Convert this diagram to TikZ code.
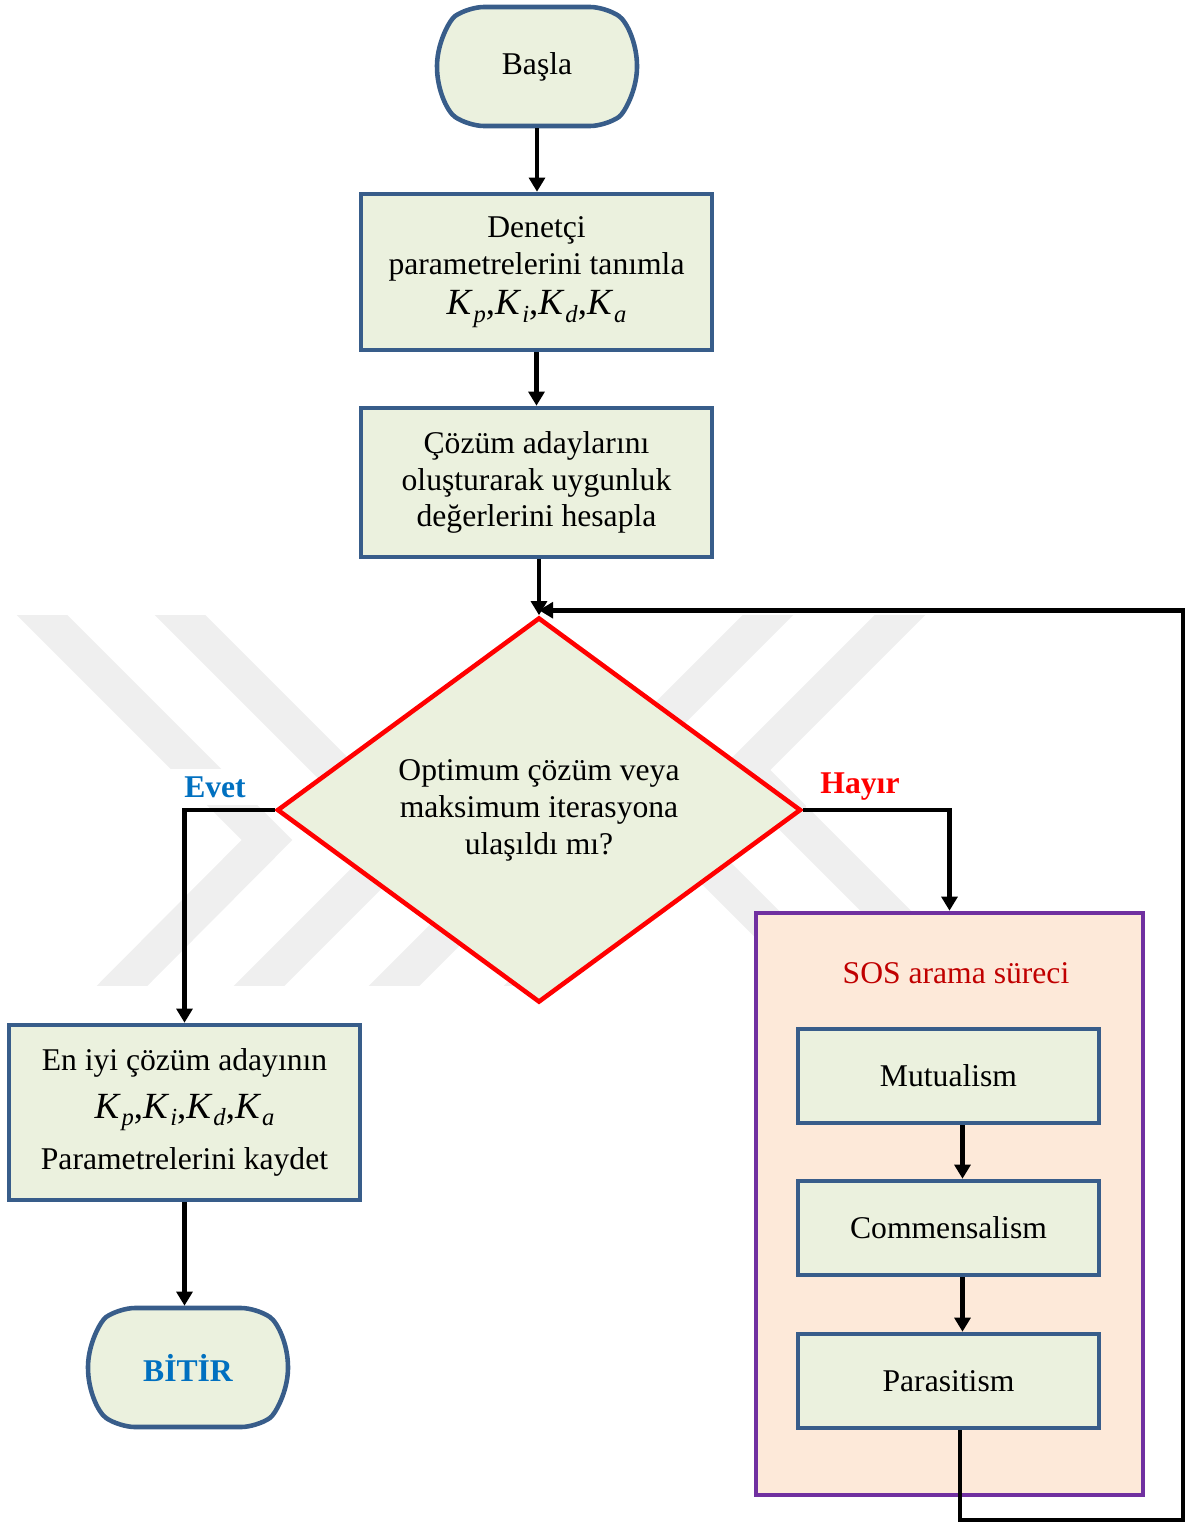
\documentclass[tikz,border=0pt]{standalone}
\usepackage{fontspec}
\setmainfont{Liberation Serif}
\usepackage{xcolor}
\definecolor{BoxFill}{HTML}{EBF1DE}
\definecolor{BoxLine}{HTML}{385D8A}
\definecolor{GrpFill}{HTML}{FDE9D9}
\definecolor{GrpLine}{HTML}{7030A0}
\definecolor{DecRed}{HTML}{FF0000}
\definecolor{TitleRed}{HTML}{C00000}
\definecolor{YesBlue}{HTML}{0070C0}
\definecolor{Mark}{HTML}{EFEFEF}
\usetikzlibrary{positioning,calc,arrows.meta,shapes.geometric,shapes.misc}
\tikzset{
  txt/.style={font=\fontsize{18}{21}\selectfont,align=center},
  bold/.style={font=\fontsize{18}{21}\selectfont\bfseries},
  bx/.style={txt,draw=BoxLine,fill=BoxFill,line width=2.6pt,inner sep=0pt},
  term/.style={bx,rounded rectangle,rounded rectangle arc length=110,rounded corners=9pt,
    minimum width=4cm,minimum height=2.38cm},
  dec/.style={txt,diamond,draw=DecRed,fill=BoxFill,line width=2.6pt,inner sep=0pt,
    aspect=1.36,minimum width=10.48cm,minimum height=7.7cm},
  grp/.style={draw=GrpLine,fill=GrpFill,line width=2.6pt,inner sep=0pt},
  flow/.style={-{Triangle[length=8pt,width=9pt]},line width=2.6pt},
  lbl/.style={bold,fill=white,inner xsep=8pt,inner ysep=4pt},
  wm/.style={draw=Mark,line width=0.72cm,line join=miter},
}
\newcommand{\kk}[1]{\textit{K}\kern0.5pt\raisebox{-0.45ex}{\fontsize{14}{14}\selectfont\textit{#1}}}
\newcommand{\kset}{{\fontsize{21}{21}\selectfont\kk{p},\kk{i},\kk{d},\kk{a}}}

\begin{document}
\begin{tikzpicture}
\useasboundingbox (0,0) rectangle (23.84,-30.48);

\begin{scope}
\clip (0,-12.3) rectangle (23.84,-19.7);
\draw[wm] (0.44,-11.9) -- (5.34,-16.8) -- (2.06,-20.1);
\draw[wm] (3.2,-11.9) -- (8.1,-16.8) -- (4.8,-20.1);
\draw[wm] (15.76,-11.9) -- (12.26,-15.4) -- (16.96,-20.1);
\draw[wm] (18.4,-11.9) -- (14.9,-15.4) -- (19.6,-20.1);
\draw[wm] (7.5,-20.1) -- (12,-15.6);
\draw[wm] (10.2,-20.1) -- (14,-16.3);
\end{scope}

\node[term] (basla) at (10.74,-1.33) {Başla};
\node[bx,minimum width=7.02cm,minimum height=3.12cm] (tanim) at (10.73,-5.44)
  {Denetçi\\parametrelerini tanımla\\[2pt]\kset};
\node[bx,minimum width=7.02cm,minimum height=2.98cm] (aday) at (10.73,-9.65)
  {Çözüm adaylarını\\oluşturarak uygunluk\\değerlerini hesapla};
\node[dec] (kontrol) at (10.78,-16.2)
  {Optimum çözüm veya\\maksimum iterasyona\\ulaşıldı mı?};
\node[bx,minimum width=7.02cm,minimum height=3.5cm] (kayit) at (3.69,-22.25)
  {En iyi çözüm adayının\\[6pt]\kset\\[8pt]Parametrelerini kaydet};
\node[term,bold,text=YesBlue] (bitir) at (3.76,-27.35) {BİTİR};

\node[grp,minimum width=7.74cm,minimum height=11.64cm] (sos) at (18.99,-24.08) {};
\node[txt,text=TitleRed] (sostit) at (19.12,-19.46) {SOS arama süreci};
\node[bx,minimum width=6.02cm,minimum height=1.88cm] (mut) at (18.97,-21.52) {Mutualism};
\node[bx,minimum width=6.02cm,minimum height=1.88cm] (com) at (18.97,-24.56) {Commensalism};
\node[bx,minimum width=6.02cm,minimum height=1.88cm] (par) at (18.97,-27.62) {Parasitism};

\node[lbl,text=YesBlue] (evet) at (4.3,-15.74) {Evet};
\node[lbl,text=DecRed] (hayir) at (17.2,-15.74) {Hayır};

\draw[flow] (basla.south) -- (basla.south |- tanim.north);
\draw[flow] (tanim.south) -- (tanim.south |- aday.north);
\draw[flow] (aday.south -| kontrol.north) -- (kontrol.north);
\draw[flow] (kontrol.west) -| (kayit.north);
\draw[flow] (kontrol.east) -| (sos.north);
\draw[flow] (kayit.south) -- (kayit.south |- bitir.north);
\draw[flow] ([xshift=0.28cm]mut.south) -- ([xshift=0.28cm]mut.south |- com.north);
\draw[flow] ([xshift=0.28cm]com.south) -- ([xshift=0.28cm]com.south |- par.north);
\coordinate (ret) at (23.66,-30.4);
\draw[flow] ([xshift=0.23cm]par.south) |- (ret) |- ([yshift=0.1cm]kontrol.north);
\end{tikzpicture}
\end{document}
